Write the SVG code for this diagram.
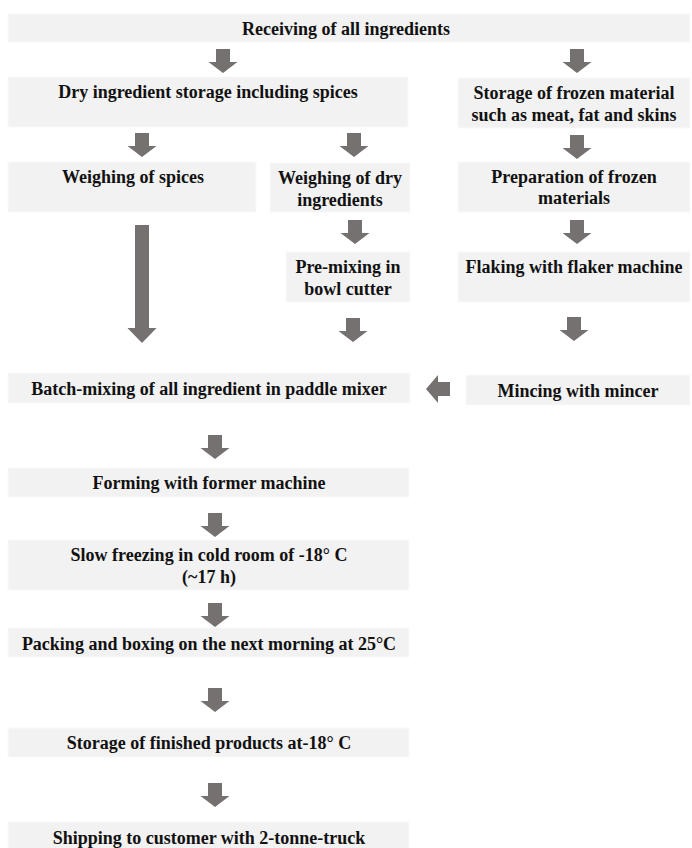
<svg xmlns="http://www.w3.org/2000/svg" xmlns:xlink="http://www.w3.org/1999/xlink" width="692" height="848" viewBox="0 0 692 848">
<style>
.box{fill:#f2f2f2;stroke:#fafafa;stroke-width:1}
.t{font-family:"Liberation Serif","Times New Roman",serif;font-weight:bold;font-size:18px;fill:#111;text-anchor:middle;dominant-baseline:central}
.arr{fill:#767171}
</style>
<defs>
<path id="dn" d="M-7,0 H7 V13 H14.5 L0,24 L-14.5,13 H-7 Z"/>
</defs>
<rect width="692" height="848" fill="#ffffff"/>
<g id="connectors" class="arr">
<use xlink:href="#dn" href="#dn" x="223" y="49"/>
<use xlink:href="#dn" href="#dn" x="577" y="49"/>
<use xlink:href="#dn" href="#dn" x="142" y="133"/>
<use xlink:href="#dn" href="#dn" x="354" y="133"/>
<use xlink:href="#dn" href="#dn" x="577" y="135"/>
<use xlink:href="#dn" href="#dn" x="355" y="220"/>
<use xlink:href="#dn" href="#dn" x="577" y="220"/>
<path d="M135,225 H149 V328 H156.5 L142,343 L127.5,328 H135 Z"/>
<use xlink:href="#dn" href="#dn" x="353" y="318"/>
<use xlink:href="#dn" href="#dn" x="574" y="317"/>
<path d="M450,382 V396 H438 V403 L426,389 L438,375 V382 Z"/>
<use xlink:href="#dn" href="#dn" x="215" y="435"/>
<use xlink:href="#dn" href="#dn" x="215" y="513"/>
<use xlink:href="#dn" href="#dn" x="215" y="603"/>
<use xlink:href="#dn" href="#dn" x="215" y="688"/>
<use xlink:href="#dn" href="#dn" x="215" y="783"/>
</g>
<g id="receiving"><rect class="box" x="8" y="14" width="682" height="28"/><text class="t" x="346" y="29">Receiving of all ingredients</text></g>
<g id="dry-storage"><rect class="box" x="8" y="77" width="400" height="50"/><text class="t" x="208" y="92">Dry ingredient storage including spices</text></g>
<g id="frozen-storage"><rect class="box" x="458" y="78" width="232" height="50"/><text class="t" x="574" y="93">Storage of frozen material</text><text class="t" x="574" y="115">such as meat, fat and skins</text></g>
<g id="weigh-spices"><rect class="box" x="8" y="162" width="248" height="50"/><text class="t" x="133" y="177">Weighing of spices</text></g>
<g id="weigh-dry"><rect class="box" x="270" y="163" width="140" height="49"/><text class="t" x="340" y="178">Weighing of dry</text><text class="t" x="340" y="200">ingredients</text></g>
<g id="prep-frozen"><rect class="box" x="458" y="162" width="232" height="50"/><text class="t" x="574" y="177">Preparation of frozen</text><text class="t" x="574" y="198">materials</text></g>
<g id="pre-mixing"><rect class="box" x="286" y="252" width="124" height="50"/><text class="t" x="348" y="267">Pre-mixing in</text><text class="t" x="348" y="289">bowl cutter</text></g>
<g id="flaking"><rect class="box" x="458" y="252" width="232" height="50"/><text class="t" x="574" y="267">Flaking with flaker machine</text></g>
<g id="batch-mixing"><rect class="box" x="8" y="373" width="402" height="30"/><text class="t" x="209" y="389">Batch-mixing of all ingredient in paddle mixer</text></g>
<g id="mincing"><rect class="box" x="466" y="375" width="224" height="30"/><text class="t" x="578" y="391">Mincing with mincer</text></g>
<g id="forming"><rect class="box" x="8" y="468" width="401" height="29"/><text class="t" x="209" y="483">Forming with former machine</text></g>
<g id="freezing"><rect class="box" x="8" y="540" width="401" height="50"/><text class="t" x="209" y="555">Slow freezing in cold room of -18° C</text><text class="t" x="209" y="577">(~17 h)</text></g>
<g id="packing"><rect class="box" x="8" y="628" width="401" height="29"/><text class="t" x="209" y="644">Packing and boxing on the next morning at 25°C</text></g>
<g id="storage-finished"><rect class="box" x="8" y="728" width="401" height="29"/><text class="t" x="209" y="743">Storage of finished products at-18° C</text></g>
<g id="shipping"><rect class="box" x="8" y="822" width="401" height="30"/><text class="t" x="209" y="838">Shipping to customer with 2-tonne-truck</text></g>
</svg>
